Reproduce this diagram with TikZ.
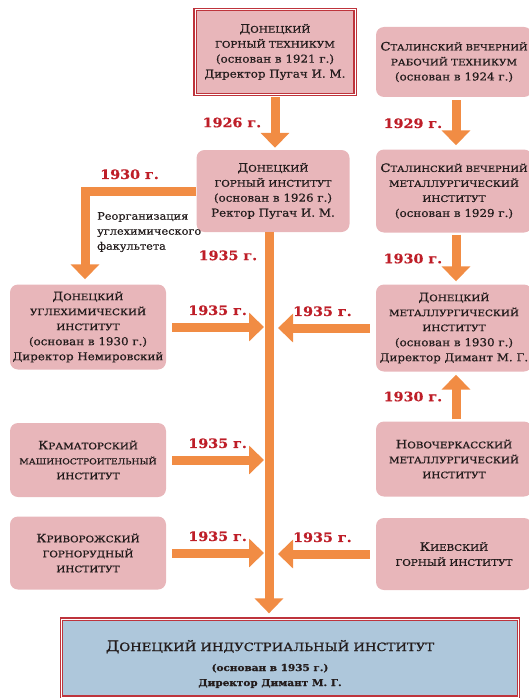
\documentclass[tikz,border=0pt]{standalone}
\usepackage{fontspec}
\setmainfont[FakeStretch=1.1, FakeBold=0.6]{DejaVu Serif}
\newfontfamily\capsfont[FakeStretch=1.15, FakeBold=1]{DejaVu Serif}
\usepackage{tikz}
\usetikzlibrary{arrows.meta, positioning}
\definecolor{boxpink}{RGB}{232,182,186}
\definecolor{boxblue}{RGB}{174,199,219}
\definecolor{framered}{RGB}{190,52,60}
\definecolor{arroworange}{RGB}{241,140,68}
\definecolor{yearred}{RGB}{190,30,40}
\definecolor{textdark}{RGB}{35,28,28}
% initial capital + small caps, and small caps only
\newcommand{\capword}[3][9]{{\capsfont\fontsize{11.5}{15}\selectfont#2\fontsize{#1}{15}\selectfont#3}}
\newcommand{\capsmall}[2][9]{{\capsfont\fontsize{#1}{15}\selectfont#2}}

\begin{document}
\begin{tikzpicture}[
    x=1pt, y=-1pt,
    inst/.style={fill=boxpink, rounded corners=8pt, align=center, inner sep=2pt, text=textdark, minimum width=156pt, font=\fontsize{10.8}{15}\selectfont},
    framed/.style={draw=framered, line width=1.3pt, double=white, double distance=0.6pt, sharp corners},
    flow/.style={draw=arroworange, line width=9pt, line join=miter, -{Triangle[width=28pt, length=15pt]}},
    yearlbl/.style={font=\bfseries\fontsize{13}{15}\selectfont, text=yearred},
    note/.style={align=left, inner sep=0pt, text=textdark, font=\fontsize{10.3}{15}\selectfont}
]
    \useasboundingbox (0,0) rectangle (528,698);
    \coordinate (trunk) at (269,0);

    % Institutions
    \node[inst, framed, minimum width=160pt, minimum height=85pt] (tech) at (275,52)
        {\capword{Д}{ОНЕЦКИЙ}\\\capsmall{ГОРНЫЙ ТЕХНИКУМ}\\(основан в 1921 г.)\\Директор Пугач И. М.};
    \node[inst, minimum height=70pt] (stalrab) at (454,62)
        {\capword[8.6]{С}{ТАЛИНСКИЙ ВЕЧЕРНИЙ}\\\capsmall{РАБОЧИЙ ТЕХНИКУМ}\\(основан в 1924 г.)};
    \node[inst, minimum width=153pt, minimum height=82pt] (gi) at (273,191)
        {\capword{Д}{ОНЕЦКИЙ}\\\capsmall{ГОРНЫЙ ИНСТИТУТ}\\(основан в 1926 г.)\\Ректор Пугач И. М.};
    \node[inst, minimum height=83pt] (stalmet) at (454,191)
        {\capword[8.6]{С}{ТАЛИНСКИЙ ВЕЧЕРНИЙ}\\\capsmall{МЕТАЛЛУРГИЧЕСКИЙ}\\\capsmall{ИНСТИТУТ}\\(основан в 1929 г.)};
    \node[inst, minimum height=85pt] (ugl) at (88,327)
        {\capword{Д}{ОНЕЦКИЙ}\\\capsmall{УГЛЕХИМИЧЕСКИЙ}\\\capsmall{ИНСТИТУТ}\\(основан в 1930 г.)\\Директор Немировский};
    \node[inst, minimum height=87pt] (met) at (454,328)
        {\capword{Д}{ОНЕЦКИЙ}\\\capsmall{МЕТАЛЛУРГИЧЕСКИЙ}\\\capsmall{ИНСТИТУТ}\\(основан в 1930 г.)\\Директор Димант М. Г.};
    \node[inst, minimum height=74pt] (kram) at (88,460)
        {\capword{К}{РАМАТОРСКИЙ}\\\capsmall[8]{МАШИНОСТРОИТЕЛЬНЫЙ}\\\capsmall{ИНСТИТУТ}};
    \node[inst, minimum height=75pt] (novo) at (454,459)
        {\capword{Н}{ОВОЧЕРКАССКИЙ}\\\capsmall{МЕТАЛЛУРГИЧЕСКИЙ}\\\capsmall{ИНСТИТУТ}};
    \node[inst, minimum height=73pt] (kriv) at (88,553)
        {\capword{К}{РИВОРОЖСКИЙ}\\\capsmall{ГОРНОРУДНЫЙ}\\\capsmall{ИНСТИТУТ}};
    \node[inst, minimum height=72pt] (kiev) at (454,554)
        {\capword{К}{ИЕВСКИЙ}\\\capsmall{ГОРНЫЙ ИНСТИТУТ}};
    \node[inst, framed, fill=boxblue, minimum width=457pt, minimum height=78pt] (dii) at (290,658) {};
    \node[align=center, text=textdark, inner sep=0pt, font=\bfseries\fontsize{9.5}{15}\selectfont] (diitext) at (270,664)
        {{\mdseries\capsfont\fontsize{14.5}{18}\selectfont Д\fontsize{11.5}{18}\selectfont ОНЕЦКИЙ ИНДУСТРИАЛЬНЫЙ ИНСТИТУТ}\\[5pt]
         (основан в 1935 г.)\\
         Директор Димант М. Г.};

    % Note
    \node[note, anchor=north west] (reorg) at (97,212) {Реорганизация\\углехимического\\факультета};

    % Flows
    \draw[flow, shorten <=2pt, shorten >=2pt] (tech.south) -- node[left=6pt, yearlbl] {1926 г.} (tech.south |- gi.north);
    \draw[flow, shorten <=3pt, shorten >=4pt] ([xshift=2pt]stalrab.south) -- node[left=6pt, yearlbl] {1929 г.} ([xshift=2pt]stalmet.north);
    \draw[flow, shorten <=2pt, shorten >=3pt] ([xshift=2pt]stalmet.south) -- node[left=6pt, yearlbl] {1930 г.} ([xshift=2pt]met.north);
    \draw[flow, shorten <=2pt, shorten >=3pt] ([xshift=2pt]novo.north) -- node[left=6pt, yearlbl] {1930 г.} ([xshift=2pt]met.south);
    \draw[flow, shorten >=5pt] (gi.west) -| node[pos=0.3, above=4pt, yearlbl] {1930 г.} ([xshift=-3pt]ugl.north);
    \draw[flow, shorten >=5pt] (gi.south -| trunk) -- node[pos=0.06, left=4pt, yearlbl] {1935 г.} (dii.north -| trunk);
    \draw[flow, shorten <=6pt, shorten >=5pt] (ugl.east) -- node[above=4pt, yearlbl] {1935 г.} (ugl.east -| trunk);
    \draw[flow, shorten <=6pt, shorten >=9pt] (met.west) -- node[above=4pt, yearlbl] {1935 г.} (met.west -| trunk);
    \draw[flow, shorten <=6pt, shorten >=5pt] (kram.east) -- node[above=4pt, yearlbl] {1935 г.} (kram.east -| trunk);
    \draw[flow, shorten <=6pt, shorten >=5pt] (kriv.east) -- node[above=4pt, yearlbl] {1935 г.} (kriv.east -| trunk);
    \draw[flow, shorten <=6pt, shorten >=9pt] (kiev.west) -- node[above=4pt, yearlbl] {1935 г.} (kiev.west -| trunk);
\end{tikzpicture}
\end{document}
